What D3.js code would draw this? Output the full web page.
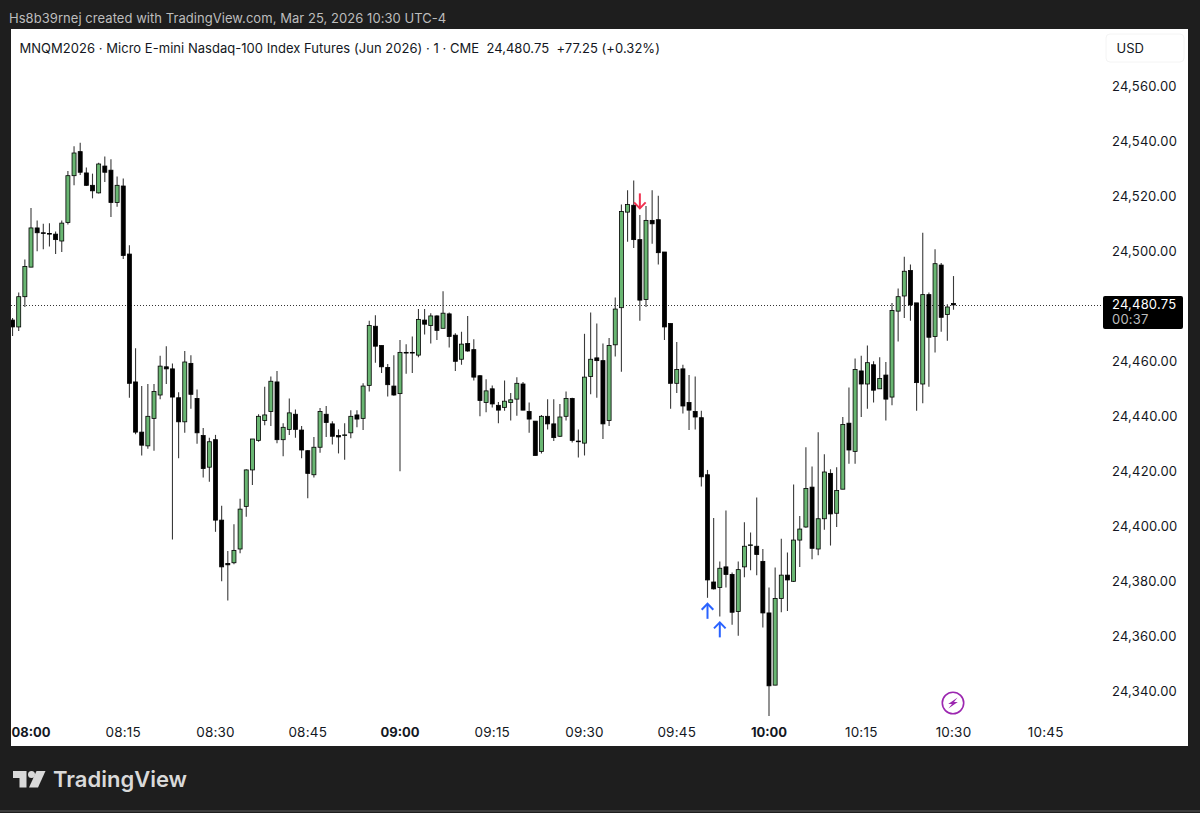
<!DOCTYPE html>
<html>
<head>
<meta charset="utf-8">
<script src="https://d3js.org/d3.v7.min.js"></script>
<style>
  html, body { margin: 0; padding: 0; background: #1e1e1e; overflow: hidden; }
  svg { display: block; }
  text { font-family: Inter, "Noto Sans", sans-serif; }
</style>
</head>
<body>
<script>
// one minute bars, first bar is 07:57 (minute -3 from 08:00)
const firstMinute = -3;
const opens = [
  24475.25,24472.75,24483.75,24494.5,24508.75,24507,24506.75,24506.5,24504,24510.75,
  24527.75,24536.5,24528.75,24524.25,24521.5,24531.25,24529.75,24518,24524,24499.25,
  24452.75,24434.5,24429.5,24439.5,24448,24458.25,24457.5,24447,24438.25,24459.5,
  24446.75,24433.25,24421.75,24431.75,24402.5,24386.75,24387,24392,24407.5,24420.75,
  24431.5,24438.75,24442,24452.75,24431.75,24435.5,24441,24435.25,24427.75,24419,
  24429,24441,24437.5,24433.25,24433.25,24434.25,24440.75,24439.5,24451.5,24473,
  24466,24458,24451.25,24448.5,24463.5,24463.5,24462.5,24475.25,24473.25,24476.75,
  24472.25,24477.5,24469.75,24461,24466.75,24464.5,24455,24445.25,24450.25,24444.25,
  24443.5,24445.25,24446.5,24452,24442,24438.5,24427.5,24440.25,24437.5,24433,
  24440.25,24446.75,24431.25,24430.5,24454.75,24461.5,24460.5,24438.75,24466.25,24479.75,
  24514.5,24517,24504.5,24482.75,24511.5,24511.75,24500,24474,24452.25,24457.5,
  24445.25,24442,24439.75,24419,24380,24378,24385.5,24382.75,24369.25,24385.5,
  24393.25,24393,24387.5,24368.75,24342.5,24374,24382.5,24380.25,24395.25,24400,
  24414.5,24392,24403,24419.5,24405,24413.75,24437.75,24427.5,24456.75,24452,
  24459,24450.25,24455.25,24447.25,24478.5,24484,24493.25,24481.5,24452,24484.5,
  24469.25,24495.25,24477.25,24481.25
];
const highs = [
  24476,24485.25,24497.25,24516,24511.5,24510.25,24510.5,24507.5,24511.5,24529.5,
  24538.5,24539.75,24530.75,24528.5,24532.5,24534.75,24533.75,24527.5,24526.75,24502.5,
  24465,24451.25,24452,24452,24462.25,24465.75,24459.5,24449,24464,24462.5,
  24450,24436,24432.5,24433.5,24407.75,24391.25,24401,24410.25,24421,24432,
  24441,24451,24454.75,24456.75,24437.75,24446.75,24442.75,24436.75,24428,24432.75,
  24443.25,24444,24438.5,24435.5,24437.75,24442.5,24442.5,24452.25,24475,24477,
  24466,24459.25,24462.5,24468,24466.5,24469.25,24479.25,24479.25,24477.75,24477,
  24485.75,24478,24470.5,24471,24476.75,24468.25,24455.25,24453.75,24451.5,24445.5,
  24453.25,24448.75,24454.5,24452.75,24445.25,24438.5,24440.75,24446.5,24446.5,24444.75,
  24449.25,24447,24435.5,24470.25,24478,24474,24466.75,24468.75,24483.5,24517.25,
  24522.5,24526,24513.5,24516.75,24522.5,24520.5,24500,24474,24467.25,24459,
  24455.25,24454.75,24442.25,24420.75,24403.25,24387.5,24406,24383.5,24387.5,24401.75,
  24398,24410.75,24392,24378,24385.25,24395.75,24390.75,24415.5,24404,24429,
  24422,24434.5,24426.5,24421,24421.75,24440,24450.75,24461.25,24462.25,24466,
  24460.25,24461.75,24460,24481.5,24486.75,24498.25,24495.5,24481.5,24507,24485.25,
  24501,24496,24481,24491.25
];
const lows = [
  24469.5,24471.25,24480,24494.5,24500.25,24501,24502,24499.25,24500,24510,
  24524.25,24528,24524,24519.5,24521.25,24525.5,24512.75,24516.5,24497.5,24447,
  24433.75,24426,24428.5,24427.75,24446.5,24452,24395.5,24425,24434.25,24443,
  24430.25,24418,24416.5,24398.25,24380.25,24373.25,24386.5,24390.5,24403.75,24415.25,
  24431,24437,24436.75,24430.5,24425.75,24433.5,24432.5,24425,24410.5,24418,
  24427,24432.75,24430,24426.75,24424.5,24432.25,24436.25,24435.25,24449.25,24459.75,
  24456,24447.5,24447.75,24420.25,24455.75,24456,24461.75,24470,24466.75,24468,
  24472.25,24465.25,24456.75,24459,24463.75,24453.25,24440.25,24441.75,24443.5,24437.75,
  24442.25,24438.75,24440.5,24442.5,24434.25,24426,24426.75,24435.5,24431.25,24432.75,
  24438.75,24430.75,24425.25,24426,24448.25,24447,24432,24436.75,24462,24456.5,
  24503.75,24501.5,24475,24480,24503,24495.5,24468,24443,24448.75,24441.25,
  24435.25,24435.5,24414.75,24374.25,24377.25,24367.5,24378,24364.5,24360.5,24381.75,
  24384.25,24382.5,24363.5,24331.25,24342.5,24369,24369.5,24380,24385.5,24399.75,
  24388.25,24389.75,24399,24393.25,24400,24413.75,24423,24423,24440,24443,
  24445.25,24450.25,24438.75,24444.25,24467.5,24476,24475,24442.25,24445,24451,
  24463.5,24471,24467.75,24479
];
const closes = [
  24472.75,24483.75,24494.75,24508.75,24507,24506.75,24506.5,24504.5,24510.5,24527.75,
  24536,24529,24524.25,24522.25,24532,24529,24518,24524.25,24498.75,24452.25,
  24434.5,24429.75,24440.25,24449.25,24458.5,24457.5,24447.25,24438.25,24460,24448.25,
  24434.25,24421.25,24431,24402.5,24385.5,24386.25,24391.5,24406.5,24420.75,24432,
  24440.25,24440.75,24453,24431.75,24436.25,24441.5,24435.5,24428,24419.5,24429,
  24442,24438,24433,24432.75,24433.5,24440.25,24439.25,24451.25,24473.25,24465.75,
  24458.25,24451.75,24448,24463.5,24463.25,24463.25,24475.5,24473.75,24476.75,24471.5,
  24477.75,24469.25,24460.25,24466.5,24464,24454.5,24446,24449.5,24444.75,24442.5,
  24445.75,24446.25,24452.25,24442.5,24439.25,24426,24440.25,24437.5,24432.5,24440,
  24446.75,24431.5,24431,24454.5,24461,24460.5,24437.5,24466,24479.25,24514.75,
  24517.25,24504.5,24482.5,24511.5,24510.25,24499.75,24472.75,24452.25,24457.25,24444,
  24442.5,24440,24418.25,24380.75,24377.5,24385,24382.75,24369,24384.5,24393,
  24393.5,24390,24368.75,24342.25,24374,24382.5,24380.75,24395.25,24399.25,24414,
  24392.25,24403,24420,24404.75,24413.25,24437.25,24428,24457.25,24452,24459.75,
  24449.75,24454,24446.5,24478.75,24483.75,24493,24480.75,24452.5,24484.5,24469,
  24495.75,24476.25,24480,24480.75
];

// 24,480.00 sits behind the last price label, so it is left out
const priceTicks = [24340,24360,24380,24400,24420,24440,24460,24500,24520,24540,24560];
const timeTicks = [0,15,30,45,60,75,90,105,120,135,150,165];
const timeLabels = ["08:00","08:15","08:30","08:45","09:00","09:15","09:30","09:45","10:00","10:15","10:30","10:45"];
const hourTicks = ["08:00","09:00","10:00"];
const lastPrice = 24480.75;

// execution markers: minute of the bar they sit on
const buyMinutes = [110, 112];
const sellMinutes = [99];

const W = 1200, H = 813;
const panel = {left: 11, top: 29, right: 1188, bottom: 746};

const bars = opens.map((o, i) => ({
  minute: firstMinute + i, open: o, high: highs[i], low: lows[i], close: closes[i]
}));
const byMinute = new Map(bars.map(d => [d.minute, d]));

const x = d3.scaleLinear().domain([0, 165]).range([31, 1045.75]);
const y = d3.scaleLinear().domain([24340, 24560]).range([692, 87]);

const svg = d3.select("body").append("svg").attr("width", W).attr("height", H);

svg.append("rect").attr("width", W).attr("height", H).attr("fill", "#1e1e1e");
svg.append("rect").attr("y", 810.5).attr("width", W).attr("height", 1).attr("fill", "#5a5a5a");

svg.append("text").attr("x", 9).attr("y", 23)
  .attr("fill", "#bdbdbd").attr("font-size", 13).attr("letter-spacing", 0.05)
  .text("Hs8b39rnej created with TradingView.com, Mar 25, 2026 10:30 UTC-4");

// white chart panel
svg.append("rect")
  .attr("x", panel.left).attr("y", panel.top)
  .attr("width", panel.right - panel.left).attr("height", panel.bottom - panel.top)
  .attr("fill", "#fff");

const chart = svg.append("g");
const clipId = "plot";
svg.append("clipPath").attr("id", clipId).append("rect")
  .attr("x", panel.left).attr("y", panel.top)
  .attr("width", 1092).attr("height", panel.bottom - panel.top);
chart.attr("clip-path", "url(#" + clipId + ")");

// last price line
chart.append("line")
  .attr("x1", panel.left).attr("x2", 1103)
  .attr("y1", Math.round(y(lastPrice)) + 0.5).attr("y2", Math.round(y(lastPrice)) + 0.5)
  .attr("stroke", "#333").attr("stroke-dasharray", "1,2");

// wicks
chart.append("g").selectAll("line").data(bars).join("line")
  .attr("x1", d => x(d.minute)).attr("x2", d => x(d.minute))
  .attr("y1", d => y(d.high)).attr("y2", d => y(d.low))
  .attr("stroke", "#3a3a3a").attr("stroke-width", 1.1);

// bodies
chart.append("g").selectAll("rect").data(bars).join("rect")
  .attr("x", d => x(d.minute) - 2)
  .attr("y", d => y(Math.max(d.open, d.close)))
  .attr("width", 4)
  .attr("height", d => Math.max(0.6, Math.abs(y(d.open) - y(d.close))))
  .attr("fill", d => d.close >= d.open ? "#69b672" : "#000")
  .attr("stroke", "#000").attr("stroke-width", 0.8);

// buy / sell arrows
function arrow(g, cx, tipY, dir, colour) {
  const len = 15 * dir;
  g.append("path")
    .attr("d", d3.line()([[cx, tipY + len], [cx, tipY + dir]]))
    .attr("fill", "none").attr("stroke", colour).attr("stroke-width", 2);
  g.append("path")
    .attr("d", d3.line()([[cx - 5.8, tipY + 6 * dir], [cx, tipY], [cx + 5.8, tipY + 6 * dir]]))
    .attr("fill", "none").attr("stroke", colour).attr("stroke-width", 2);
}
const marks = svg.append("g");
buyMinutes.forEach(m => arrow(marks, x(m), y(byMinute.get(m).low) + 6, 1, "#2962ff"));
sellMinutes.forEach(m => arrow(marks, x(m), y(byMinute.get(m).high) - 6.5, -1, "#f0304f"));

// bottom time axis
const xAxis = svg.append("g")
  .attr("transform", "translate(-0.5,732)")
  .call(d3.axisBottom(x).tickValues(timeTicks)
    .tickSize(0).tickPadding(0)
    .tickFormat((d, i) => timeLabels[i]));
xAxis.select(".domain").remove();
xAxis.selectAll("text")
  .attr("dy", "0.36em")
  .attr("fill", "#131722")
  .style("font-family", "Inter")
  .attr("font-size", (d, i) => hourTicks.includes(timeLabels[i]) ? 13 : 13.5)
  .attr("letter-spacing", (d, i) => hourTicks.includes(timeLabels[i]) ? 0 : 0.2)
  .attr("font-weight", (d, i) => hourTicks.includes(timeLabels[i]) ? 700 : 400);

// right price axis
const yAxis = svg.append("g")
  .attr("transform", "translate(1112,-0.7)")
  .call(d3.axisRight(y).tickValues(priceTicks)
    .tickSize(0).tickPadding(0)
    .tickFormat(d3.format(",.2f")));
yAxis.select(".domain").remove();
yAxis.selectAll("text")
  .attr("dy", "0.36em").attr("fill", "#131722").attr("letter-spacing", 0.2)
  .style("font-family", "Inter").attr("font-size", 13);

// title row
svg.append("text").attr("x", 19.5).attr("y", 53)
  .attr("fill", "#131722").attr("font-size", 13).attr("letter-spacing", 0.03)
  .style("white-space", "pre")
  .text("MNQM2026 \u00b7 Micro E-mini Nasdaq-100 Index Futures (Jun 2026) \u00b7 1 \u00b7 CME  24,480.75  +77.25 (+0.32%)");

// USD button
svg.append("rect").attr("x", 1106).attr("y", 34).attr("width", 78).attr("height", 28).attr("rx", 4)
  .attr("fill", "#fff").attr("stroke", "#f4f4f4");
svg.append("text").attr("x", 1116.5).attr("y", 53).attr("fill", "#131722").attr("font-size", 13).text("USD");

// last price label
svg.append("rect").attr("x", 1103).attr("y", 296).attr("width", 80).attr("height", 33).attr("rx", 2).attr("fill", "#000");
svg.append("text").attr("x", 1112).attr("y", 308.5).attr("fill", "#fff").attr("font-size", 13).attr("letter-spacing", 0.2)
  .text(d3.format(",.2f")(lastPrice));
svg.append("text").attr("x", 1112).attr("y", 324).attr("fill", "#bdbdbd").attr("font-size", 13).attr("letter-spacing", 0.2).text("00:37");

// purple bolt badge
const badge = svg.append("g").attr("transform", "translate(953,703)");
badge.append("circle").attr("r", 10.7).attr("fill", "#fff").attr("stroke", "#9c27b0").attr("stroke-width", 1.6);
badge.append("path").attr("d", "M4.6,-5.6 L-4.8,1 L-1,1 L-4.6,5.6 L4.8,-1 L1,-1 Z").attr("fill", "#9c27b0");

// TradingView logo
const logo = svg.append("g").attr("transform", "translate(13,771)").attr("fill", "#d9d9d9");
logo.append("path").attr("d", "M0,0 H13.5 V16.5 H6.5 V7 H0 Z");
logo.append("circle").attr("cx", 18.5).attr("cy", 3.5).attr("r", 3.5);
logo.append("path").attr("d", "M23.5,0 H32.5 L25,16.5 H16 Z");
svg.append("text").attr("x", 53).attr("y", 787)
  .attr("fill", "#d9d9d9").attr("font-size", 22).attr("font-weight", 600)
  .text("TradingView");
</script>
</body>
</html>
